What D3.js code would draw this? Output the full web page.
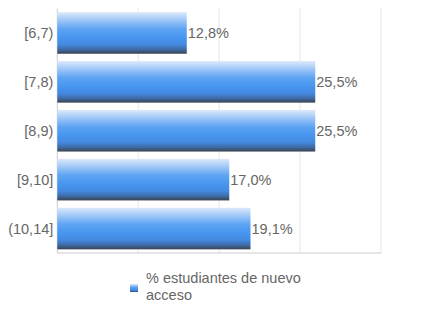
<!DOCTYPE html>
<html>
<head>
<meta charset="utf-8">
<script src="https://cdn.jsdelivr.net/npm/d3@7"></script>
<style>
  body { margin: 0; background: #fff; }
  text { font-family: "Liberation Sans", Arial, sans-serif; }
</style>
</head>
<body>
<svg width="432" height="324"></svg>
<script>
var categories = ["[6,7)", "[7,8)", "[8,9)", "[9,10]", "(10,14]"];
var values = [12.8, 25.5, 25.5, 17.0, 19.1];
var labels = ["12,8%", "25,5%", "25,5%", "17,0%", "19,1%"];
var gridTicks = [0, 8, 16, 24, 32];
var seriesName = ["% estudiantes de nuevo", "acceso"];

var svg = d3.select("svg"),
    margin = {top: 8.5, right: 51, bottom: 71, left: 57.3},
    width = 432 - margin.left - margin.right,
    height = 324 - margin.top - margin.bottom;

var defs = svg.append("defs");
var grad = defs.append("linearGradient")
    .attr("id", "barGrad")
    .attr("x1", 0).attr("y1", 0).attr("x2", 0).attr("y2", 1);
[[0, "#dde9fb"], [0.2, "#9cc6f7"], [0.4, "#5ea4f3"], [0.6, "#4796f0"],
 [0.78, "#4489e0"], [0.9, "#3f6aa4"], [1, "#39424f"]].forEach(function(s) {
  grad.append("stop").attr("offset", s[0]).attr("stop-color", s[1]);
});

var g = svg.append("g").attr("transform", "translate(" + margin.left + "," + margin.top + ")");

var x = d3.scaleLinear().domain([0, 32]).range([0, width]);
var y = d3.scaleBand().domain(categories).range([0, height]).paddingInner(0.15).paddingOuter(0.075);

// gridlines
g.selectAll("line.grid")
  .data(gridTicks)
  .enter().append("line")
    .attr("class", "grid")
    .attr("x1", function(d) { return x(d); })
    .attr("x2", function(d) { return x(d); })
    .attr("y1", 0)
    .attr("y2", height)
    .attr("stroke", function(d) { return d === 0 ? "#cccccc" : "#e6e6e6"; })
    .attr("stroke-width", 1);

// bottom axis line
g.append("line")
    .attr("x1", 0).attr("x2", width)
    .attr("y1", height).attr("y2", height)
    .attr("stroke", "#cccccc");

g.selectAll("rect.bar")
  .data(values)
  .enter().append("rect")
    .attr("class", "bar")
    .attr("x", 0)
    .attr("y", function(d, i) { return y(categories[i]); })
    .attr("width", function(d) { return x(d); })
    .attr("height", y.bandwidth())
    .attr("fill", "url(#barGrad)");

g.selectAll("text.val")
  .data(values)
  .enter().append("text")
    .attr("class", "val")
    .attr("x", function(d) { return x(d) + 1; })
    .attr("y", function(d, i) { return y(categories[i]) + y.bandwidth() / 2; })
    .attr("dy", "0.36em")
    .attr("font-size", 14.5)
    .attr("fill", "#666")
    .text(function(d, i) { return labels[i]; });

g.selectAll("text.cat")
  .data(categories)
  .enter().append("text")
    .attr("class", "cat")
    .attr("x", -4)
    .attr("y", function(d) { return y(d) + y.bandwidth() / 2; })
    .attr("dy", "0.36em")
    .attr("text-anchor", "end")
    .attr("font-size", 14.5)
    .attr("fill", "#666")
    .text(function(d) { return d; });

// legend
var lg = svg.append("g").attr("transform", "translate(130,284)");
lg.append("rect")
    .attr("x", 0).attr("y", 0)
    .attr("width", 8).attr("height", 8)
    .attr("fill", "url(#barGrad)");
lg.selectAll("text")
  .data(seriesName)
  .enter().append("text")
    .attr("x", 16)
    .attr("y", function(d, i) { return i * 17 - 1; })
    .attr("font-size", 14.5)
    .attr("fill", "#666")
    .text(function(d) { return d; });
</script>
</body>
</html>
